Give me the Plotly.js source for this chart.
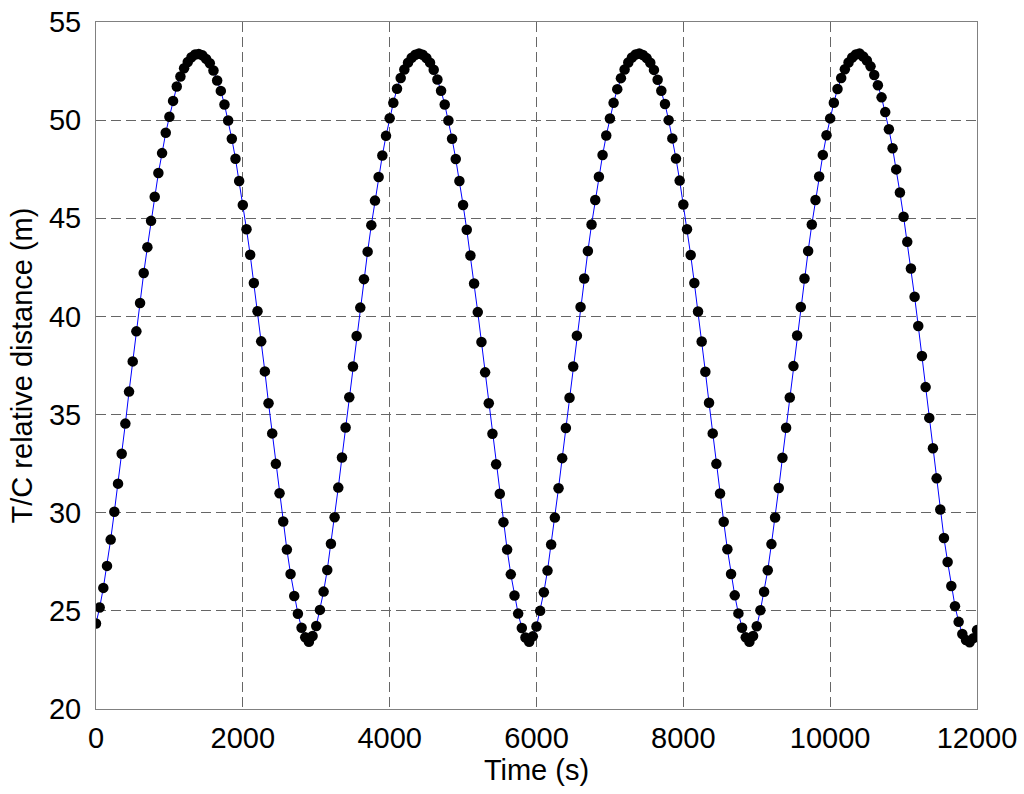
<!DOCTYPE html>
<html>
<head>
<meta charset="utf-8">
<script src="https://cdn.plot.ly/plotly-3.0.1.min.js"></script>
<style>
  body { margin: 0; background: #fff; }
  #chart { width: 1024px; height: 794px; }
</style>
</head>
<body>
<div id="chart"></div>
<script>
// sampling step of the dotted series (s)
var stepSeconds = 50;

// T/C relative distance (m), one value per sample
var distance = [
  24.36, 25.17, 26.17, 27.29, 28.63, 30.05, 31.48, 33.00, 34.54, 36.17,
  37.71, 39.24, 40.68, 42.21, 43.53, 44.87, 46.10, 47.31, 48.32, 49.36,
  50.17, 50.98, 51.71, 52.22, 52.64, 52.96, 53.20, 53.34, 53.37, 53.30,
  53.12, 52.90, 52.53, 52.02, 51.49, 50.80, 49.98, 49.05, 48.03, 46.90,
  45.68, 44.44, 43.14, 41.70, 40.26, 38.73, 37.20, 35.58, 34.04, 32.49,
  30.99, 29.55, 28.12, 26.88, 25.76, 24.85, 24.14, 23.65, 23.43, 23.72,
  24.23, 25.05, 25.98, 27.08, 28.42, 29.77, 31.28, 32.81, 34.34, 35.88,
  37.45, 39.00, 40.45, 41.90, 43.30, 44.65, 45.90, 47.10, 48.20, 49.20,
  50.10, 50.88, 51.60, 52.15, 52.58, 52.93, 53.18, 53.33, 53.40, 53.33,
  53.17, 52.93, 52.57, 52.07, 51.50, 50.80, 49.98, 49.05, 48.02, 46.90,
  45.68, 44.42, 43.10, 41.68, 40.22, 38.70, 37.15, 35.58, 34.02, 32.47,
  30.97, 29.52, 28.12, 26.86, 25.78, 24.86, 24.13, 23.64, 23.42, 23.70,
  24.20, 25.00, 25.95, 27.05, 28.38, 29.75, 31.25, 32.78, 34.32, 35.86,
  37.45, 39.02, 40.48, 41.93, 43.33, 44.68, 45.93, 47.12, 48.22, 49.22,
  50.08, 50.88, 51.58, 52.14, 52.58, 52.94, 53.19, 53.34, 53.40, 53.32,
  53.16, 52.92, 52.56, 52.06, 51.50, 50.82, 50.00, 49.07, 48.04, 46.92,
  45.70, 44.44, 43.13, 41.70, 40.25, 38.72, 37.18, 35.60, 34.04, 32.49,
  30.98, 29.54, 28.14, 26.88, 25.79, 24.87, 24.14, 23.65, 23.43, 23.72,
  24.22, 25.03, 25.97, 27.07, 28.40, 29.76, 31.26, 32.80, 34.33, 35.87,
  37.47, 39.03, 40.48, 41.93, 43.33, 44.68, 45.93, 47.13, 48.23, 49.23,
  50.09, 50.89, 51.59, 52.15, 52.59, 52.94, 53.19, 53.34, 53.40, 53.24,
  53.04, 52.74, 52.30, 51.78, 51.16, 50.41, 49.54, 48.57, 47.49, 46.31,
  45.08, 43.80, 42.44, 41.00, 39.51, 37.98, 36.40, 34.83, 33.28, 31.75,
  30.16, 28.71, 27.49, 26.27, 25.24, 24.44, 23.82, 23.51, 23.40, 23.61,
  24.02
];

var time = distance.map(function (v, i) { return i * stepSeconds; });

var xTicks = [0, 2000, 4000, 6000, 8000, 10000, 12000];
var yTicks = [20, 25, 30, 35, 40, 45, 50, 55];

var font = { family: 'Liberation Sans, Arial, sans-serif', size: 29, color: '#000' };

var trace = {
    x: time,
    y: distance,
    type: 'scatter',
    mode: 'lines+markers',
    line: { color: '#0000ff', width: 1 },
    marker: { color: '#000', size: 10.5 },
    hoverinfo: 'none'
};

var layout = {
    width: 1024,
    height: 794,
    margin: { l: 96, r: 47, t: 22, b: 85 },
    paper_bgcolor: '#fff',
    plot_bgcolor: '#fff',
    font: font,
    showlegend: false,
    xaxis: {
        range: [0, 12000],
        tickvals: xTicks,
        ticktext: xTicks.map(String),
        tickfont: font,
        ticks: '',
        ticklabelstandoff: 3,
        showgrid: true,
        gridcolor: '#666',
        griddash: '10px,5px',
        gridwidth: 1,
        zeroline: false,
        showline: true,
        linecolor: '#808080',
        linewidth: 1,
        mirror: true,
        title: { text: 'Time (s)', font: font, standoff: 1 }
    },
    yaxis: {
        range: [20, 55],
        tickvals: yTicks,
        ticktext: yTicks.map(String),
        tickfont: font,
        ticks: '',
        ticklabelstandoff: 8,
        showgrid: true,
        gridcolor: '#666',
        griddash: '10px,5px',
        gridwidth: 1,
        zeroline: false,
        showline: true,
        linecolor: '#808080',
        linewidth: 1,
        mirror: true,
        title: { text: 'T/C relative distance (m)', font: font, standoff: 7 }
    }
};

Plotly.newPlot('chart', [trace], layout, { displayModeBar: false, staticPlot: true });
</script>
</body>
</html>
